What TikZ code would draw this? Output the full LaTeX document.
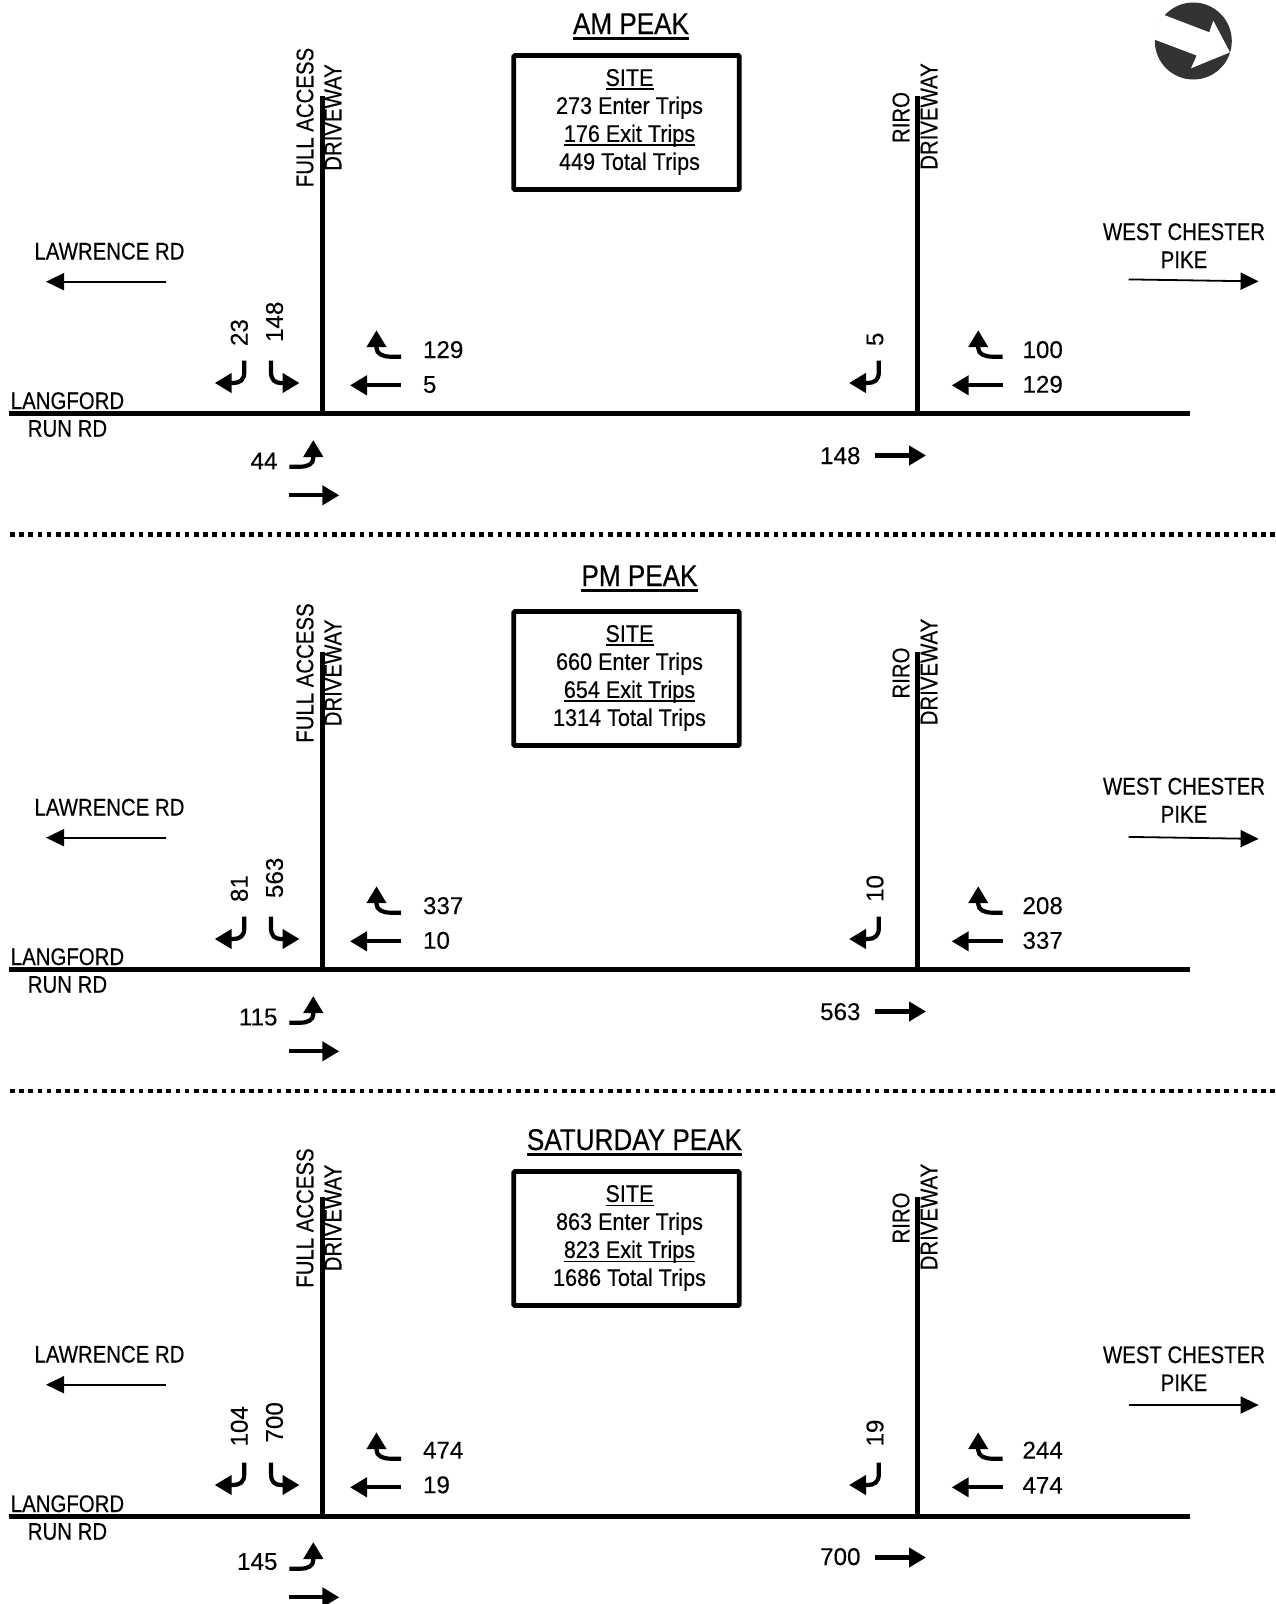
\documentclass[tikz,border=0pt]{standalone}
\usepackage{fontspec}
\setmainfont{Liberation Sans}
\newfontfamily\narrowf[FakeStretch=0.85,FakeBold=0.35]{Liberation Sans}
\newfontfamily\sitef[FakeStretch=0.9,FakeBold=0.35]{Liberation Sans}
\newfontfamily\titlef[FakeStretch=0.87,FakeBold=0.4]{Liberation Sans}
\newfontfamily\numf[FakeBold=0.15]{Liberation Sans}
\usetikzlibrary{arrows.meta}
\newcommand{\ulthin}[1]{\setbox0\hbox{#1}\rlap{\vrule width\wd0 height-2.6pt depth4.2pt}\box0}
\newcommand{\ulthick}[1]{\setbox0\hbox{#1}\rlap{\vrule width\wd0 height-3.4pt depth5.8pt}\box0}
\tikzset{
  every node/.style={inner sep=0pt,outer sep=0pt},
  roadline/.style={line width=5pt},
  turnarrow/.style={line width=4.2pt,-{Triangle[length=17pt,width=19pt]}},
  thinarrow/.style={line width=1.8pt,-{Triangle[length=18pt,width=17pt]}},
  numlabel/.style={font=\numf\fontsize{24.2}{26}\selectfont,anchor=base west},
  numright/.style={font=\numf\fontsize{24.2}{26}\selectfont,anchor=base east},
  numrot/.style={font=\numf\fontsize{24.2}{26}\selectfont,rotate=90,anchor=west},
  roadname/.style={font=\narrowf\fontsize{24}{28}\selectfont,anchor=base},
  roadnamerot/.style={font=\narrowf\fontsize{24}{28}\selectfont,rotate=90},
  sitetext/.style={font=\sitef\fontsize{24}{28}\selectfont,align=center},
  sitebox/.style={draw,line width=4.6pt,rounded corners=1pt,minimum width=225.5pt,minimum height=134pt},
  titletext/.style={font=\titlef\fontsize{30}{32}\selectfont,anchor=base},
  separator/.style={line width=4.6pt,dash pattern=on 4.6pt off 4.6pt},
}
% #1 prefix, #2 arrows offset, #3 road offset, #4 text offset at driveways, #5 west chester text offset
\newcommand{\panel}[5]{
  \coordinate (#1rs) at (9,413.5+#3);
  \coordinate (#1re) at (1190,413.5+#3);
  \coordinate (#1d1t) at (322.7,96+#4);
  \coordinate (#1d1b) at (322.7,413.5+#3);
  \coordinate (#1d2t) at (917.5,96+#4);
  \coordinate (#1d2b) at (917.5,413.5+#3);
  \node[roadnamerot] (#1fa) at (305,117.5+#4) {FULL ACCESS};
  \node[roadnamerot] (#1dw1) at (333,117.5+#4) {DRIVEWAY};
  \node[roadnamerot] (#1ri) at (901,117.5+#4) {RIRO};
  \node[roadnamerot] (#1dw2) at (929,116.5+#4) {DRIVEWAY};
  \draw[roadline] (#1rs) -- (#1re);
  \draw[roadline] (#1d1t) -- (#1d1b);
  \draw[roadline] (#1d2t) -- (#1d2b);
  \node[roadname] (#1la) at (109.5,259.5+#3) {LAWRENCE RD};
  \coordinate (#1las) at (166,281.7+#3);
  \coordinate (#1lae) at (46,281.7+#3);
  \draw[thinarrow] (#1las) -- (#1lae);
  \node[roadname] (#1wc) at (1184,240+#5) {WEST CHESTER};
  \node[roadname] (#1pk) at (1184,268+#5) {PIKE};
  \node[roadname] (#1lg) at (67.5,409+#3) {LANGFORD};
  \node[roadname] (#1ru) at (67.5,436.7+#3) {RUN RD};
  % full access driveway movements
  \draw[turnarrow] (244.3,360.7+#2) -- (244.3,372+#2) .. controls (244.3,380+#2) and (240,383+#2) .. (233,383+#2) -- (214.7,383+#2);
  \draw[turnarrow] (271,360.7+#2) -- (271,372+#2) .. controls (271,380+#2) and (275,383+#2) .. (281,383+#2) -- (299.5,383+#2);
  \draw[turnarrow] (401,356.7+#2) -- (391,356.7+#2) .. controls (383,356.7+#2) and (376.5,354+#2) .. (376.5,348+#2) -- (376.5,330.2+#2);
  \coordinate (#1a5s) at (401,385.3+#2);
  \coordinate (#1a5e) at (350,385.3+#2);
  \draw[turnarrow] (#1a5s) -- (#1a5e);
  \draw[turnarrow] (289.3,466.7+#2) -- (300,466.7+#2) .. controls (308,466.7+#2) and (313.3,464+#2) .. (313.3,458+#2) -- (313.3,440+#2);
  \coordinate (#1a6s) at (289.3,495.3+#2);
  \coordinate (#1a6e) at (339.3,495.3+#2);
  \draw[turnarrow] (#1a6s) -- (#1a6e);
  % RIRO driveway movements
  \draw[turnarrow] (878.8,360.7+#2) -- (878.8,372+#2) .. controls (878.8,380+#2) and (874.5,383+#2) .. (867.5,383+#2) -- (849,383+#2);
  \draw[turnarrow] (1002.6,356.7+#2) -- (992.7,356.7+#2) .. controls (984.7,356.7+#2) and (978.2,354+#2) .. (978.2,348+#2) -- (978.2,330.2+#2);
  \coordinate (#1b5s) at (1002.6,385.3+#2);
  \coordinate (#1b5e) at (951.7,385.3+#2);
  \draw[turnarrow] (#1b5s) -- (#1b5e);
  \coordinate (#1b6s) at (875,455.5+#2);
  \coordinate (#1b6e) at (926,455.5+#2);
  \draw[turnarrow] (#1b6s) -- (#1b6e);
}
% labels: #1 prefix #2 offset #3 23 #4 148 #5 129 #6 5 #7 44 #8 rl #9 rr
\newcommand{\labelsA}[9]{
  \node[numrot] (#1n1) at (239.3,346+#2) {#3};
  \node[numrot] (#1n2) at (274.5,342+#2) {#4};
  \node[numlabel] (#1n3) at (423,358+#2) {#5};
  \node[numlabel] (#1n4) at (423,392.7+#2) {#6};
  \node[numright] (#1n5) at (277.5,469.3+#2) {#7};
  \node[numrot] (#1n6) at (875,346+#2) {#8};
  \node[numlabel] (#1n7) at (1022.5,358+#2) {#9};
}
\newcommand{\labelsB}[4]{
  \node[numlabel] (#1n8) at (1022.5,392.7+#2) {#3};
  \node[numright] (#1n9) at (860.5,464+#2) {#4};
}
\newcommand{\sitepanel}[5]{
  \node[sitebox] (#1box) at (626.5,122.5+#2) {};
  \node[sitetext] (#1txt) at (629.5,122+#2) {\ulthin{SITE}\\#3 Enter Trips\\\ulthin{#4 Exit Trips}\\#5 Total Trips};
}
\begin{document}
\begin{tikzpicture}[x=1pt,y=-1pt]
\useasboundingbox (0,0) rectangle (1276,1604);
% north arrow
\fill[black!80] (1193.3,41) circle[radius=38.5];
\fill[white] (1151.7,38.5) -- (1196.7,55.5) -- (1191,68.3) -- (1230,52.3) -- (1213.3,20.7) -- (1209.3,32.3) -- (1163.3,14.7) -- cycle;
\fill[white] (1151.7,38.5) -- (1163.3,14.7) -- (1150,8) -- (1145,30) -- cycle;
% AM
\node[titletext] (amt) at (631,34) {\ulthick{AM PEAK}};
\sitepanel{am}{0}{273}{176}{449}
\panel{am}{0}{0}{0}{0}
\labelsA{am}{0}{23}{148}{129}{5}{44}{5}{100}
\labelsB{am}{0}{129}{148}
\coordinate (amws) at (1128.7,279.4);
\coordinate (amwe) at (1258.6,281.4);
\draw[thinarrow] (amws) -- (amwe);
% separator
\coordinate (s1a) at (10,534.5);
\coordinate (s1b) at (1276,534.5);
\draw[separator] (s1a) -- (s1b);
% PM
\node[titletext] (pmt) at (639.5,586) {\ulthick{PM PEAK}};
\sitepanel{pm}{556}{660}{654}{1314}
\panel{pm}{556}{556}{555.5}{554.5}
\labelsA{pm}{556}{81}{563}{337}{10}{115}{10}{208}
\labelsB{pm}{556}{337}{563}
\coordinate (pmws) at (1128.7,836.9);
\coordinate (pmwe) at (1258.6,838.9);
\draw[thinarrow] (pmws) -- (pmwe);
\coordinate (s2a) at (10,1091);
\coordinate (s2b) at (1276,1091);
\draw[separator] (s2a) -- (s2b);
% SATURDAY
\node[titletext] (sat) at (634.5,1150) {\ulthick{SATURDAY PEAK}};
\sitepanel{sa}{1116}{863}{823}{1686}
\panel{sa}{1102}{1103}{1100.5}{1123}
\labelsA{sa}{1100.5}{104}{700}{474}{19}{145}{19}{244}
\labelsB{sa}{1101}{474}{700}
\coordinate (saws) at (1128.7,1405);
\coordinate (sawe) at (1258.6,1405);
\draw[thinarrow] (saws) -- (sawe);
\end{tikzpicture}
\end{document}
